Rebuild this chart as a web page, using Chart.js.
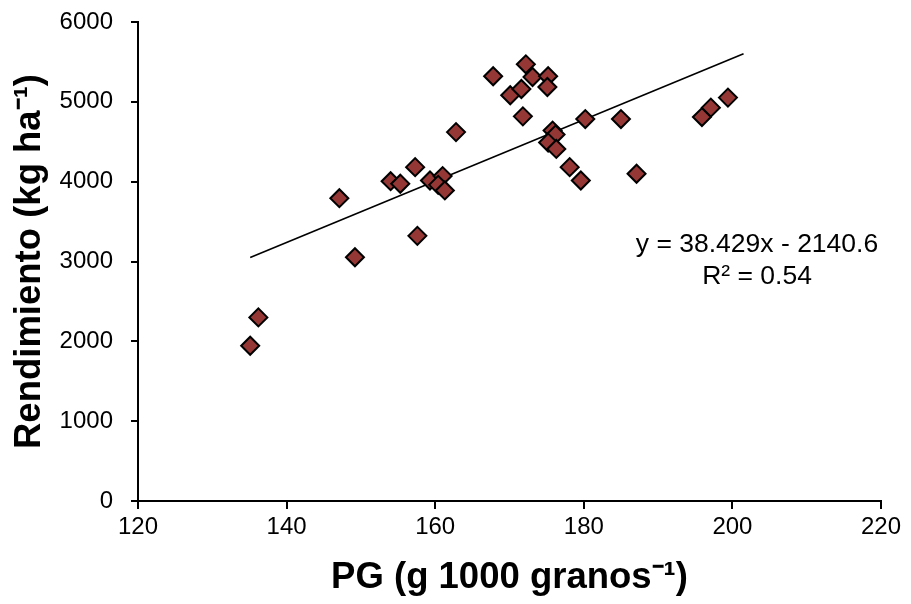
<!DOCTYPE html>
<html>
<head>
<meta charset="utf-8">
<script src="https://cdn.jsdelivr.net/npm/chart.js@4/dist/chart.umd.min.js"></script>
<style>
  html, body { margin: 0; padding: 0; background: #ffffff; }
  #wrap { width: 911px; height: 604px; }
</style>
</head>
<body>
<div id="wrap"><canvas id="c" width="911" height="604"></canvas></div>
<script>
// ---- Data ----
const pesoGrano = [135.1, 136.2, 147.1, 149.2, 154.0, 155.3, 157.3, 157.6, 159.3, 161.0, 160.4, 161.3,
                   162.8, 167.8, 170.1, 171.6, 171.8, 172.2, 173.1, 175.2, 175.1, 175.8, 176.2, 175.2,
                   176.3, 178.1, 179.6, 180.2, 185.0, 187.1, 195.9, 197.1, 199.4];
const rendimiento = [1945, 2300, 3793, 3053, 4006, 3974, 4182, 3321, 4015, 4070, 3960, 3890,
                     4621, 5320, 5082, 5161, 4818, 5470, 5311, 5320, 5186, 4640, 4590, 4490,
                     4410, 4182, 4015, 4784, 4784, 4099, 4809, 4927, 5053];
// Linear trendline endpoints (as drawn in the reference)
const trendX = [135.1, 201.5];
const trendY = [3051, 5603];
// Axis ticks
const xTicks = [120, 140, 160, 180, 200, 220];
const yTicks = [0, 1000, 2000, 3000, 4000, 5000, 6000];
// Labels
const xTitle = 'PG (g 1000 granos\u207B\u00B9)';
const yTitle = 'Rendimiento (kg ha\u207B\u00B9)';
const eqLines = ['y = 38.429x - 2140.6', 'R\u00B2 = 0.54'];

const scatterPts = pesoGrano.map((x, i) => ({ x: x, y: rendimiento[i] }));
const trendPts = trendX.map((x, i) => ({ x: x, y: trendY[i] }));

const FONT = "'Liberation Sans', Arial, Helvetica, sans-serif";

const equationPlugin = {
  id: 'equation',
  afterDatasetsDraw(chart, args, opts) {
    const ctx = chart.ctx;
    ctx.save();
    ctx.fillStyle = '#000';
    ctx.font = opts.font;
    ctx.textAlign = 'center';
    ctx.textBaseline = 'middle';
    opts.lines.forEach((t, i) => {
      ctx.fillText(t, opts.x, opts.y + i * opts.lineGap);
    });
    ctx.restore();
  }
};

new Chart(document.getElementById('c'), {
  type: 'scatter',
  data: {
    datasets: [
      {
        type: 'line',
        data: trendPts,
        borderColor: '#000000',
        borderWidth: 1.6,
        pointRadius: 0,
        fill: false,
        tension: 0,
        order: 2
      },
      {
        data: scatterPts,
        pointStyle: 'rectRot',
        pointRadius: 9,
        pointHoverRadius: 9,
        backgroundColor: '#953735',
        borderColor: '#000000',
        borderWidth: 2,
        order: 1
      }
    ]
  },
  options: {
    responsive: false,
    animation: false,
    devicePixelRatio: 1,
    layout: { padding: { left: 0, right: 30, top: 22, bottom: 0 } },
    plugins: {
      legend: { display: false },
      tooltip: { enabled: false },
      equation: { lines: eqLines, x: 757, y: 245, lineGap: 32, font: '26.5px ' + FONT }
    },
    scales: {
      x: {
        type: 'linear',
        min: xTicks[0],
        max: xTicks[xTicks.length - 1],
        afterBuildTicks(scale) { scale.ticks = xTicks.map(v => ({ value: v })); },
        afterFit(scale) { scale.height = 103; scale.paddingLeft = 0; scale.paddingRight = 0; },
        border: { display: true, color: '#000', width: 2 },
        grid: { display: true, drawOnChartArea: false, drawTicks: true, tickLength: 8, color: '#000', lineWidth: 2 },
        ticks: { color: '#000', font: { family: FONT, size: 24 }, padding: 4, maxRotation: 0,
                 callback: v => String(v) },
        title: {
          display: true, text: xTitle, color: '#000',
          font: { family: FONT, size: 36.5, weight: 'bold' },
          padding: { top: 0, bottom: 4 }
        }
      },
      y: {
        type: 'linear',
        min: yTicks[0],
        max: yTicks[yTicks.length - 1],
        afterBuildTicks(scale) { scale.ticks = yTicks.map(v => ({ value: v })); },
        afterFit(scale) { scale.width = 138; scale.paddingTop = 0; scale.paddingBottom = 0; },
        border: { display: true, color: '#000', width: 2 },
        grid: { display: true, drawOnChartArea: false, drawTicks: true, tickLength: 7, color: '#000', lineWidth: 2 },
        ticks: { color: '#000', font: { family: FONT, size: 24 }, padding: 18,
                 callback: v => String(v) },
        title: {
          display: true, text: yTitle, color: '#000',
          font: { family: FONT, size: 36.5, weight: 'bold' },
          padding: { top: 8, bottom: 0 }
        }
      }
    }
  },
  plugins: [equationPlugin]
});
</script>
</body>
</html>
